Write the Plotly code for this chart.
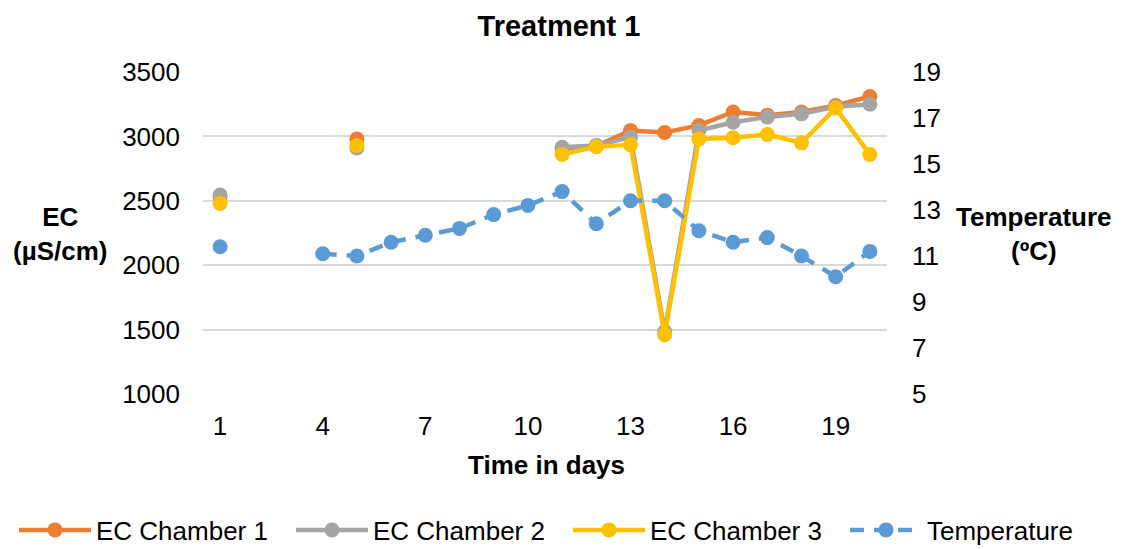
import plotly.graph_objects as go

days = list(range(1, 21))
ec_chamber1 = [2530, None, None, None, 2980, None, None, None, None, None,
               2905, 2925, 3045, 3030, 3085, 3190, 3165, 3190, 3240, 3310]
ec_chamber2 = [2545, None, None, None, 2910, None, None, None, None, None,
               2915, 2930, 2995, 1485, 3045, 3110, 3150, 3175, 3230, 3250]
ec_chamber3 = [2480, None, None, None, 2930, None, None, None, None, None,
               2860, 2920, 2935, 1460, 2980, 2990, 3015, 2950, 3220, 2860]
temperature = [11.4, None, None, 11.1, 11.0, 11.6, 11.9, 12.2, 12.8, 13.2,
               13.8, 12.4, 13.4, 13.4, 12.1, 11.6, 11.8, 11.0, 10.1, 11.2]

ec_ticks = [1000, 1500, 2000, 2500, 3000, 3500]
temp_ticks = [5, 7, 9, 11, 13, 15, 17, 19]
x_ticks = [1, 4, 7, 10, 13, 16, 19]

FONT = "Arial, Liberation Sans, sans-serif"
W, H = 1121, 549

fig = go.Figure()
series = [
    ("EC Chamber 1", ec_chamber1, "#ED7D31"),
    ("EC Chamber 2", ec_chamber2, "#A5A5A5"),
    ("EC Chamber 3", ec_chamber3, "#FFC000"),
]
for name, vals, col in series:
    fig.add_trace(go.Scatter(
        x=days, y=vals, name=name, mode="lines+markers",
        line=dict(color=col, width=4.5),
        marker=dict(color=col, size=15),
        connectgaps=False, yaxis="y",
    ))
fig.add_trace(go.Scatter(
    x=days, y=temperature, name="Temperature", mode="lines+markers",
    line=dict(color="#5B9BD5", width=4.5, dash="14px,10px"),
    marker=dict(color="#5B9BD5", size=15),
    connectgaps=False, yaxis="y2",
))

fig.update_layout(
    width=W, height=H,
    margin=dict(l=0, r=0, t=0, b=0, autoexpand=False),
    paper_bgcolor="white", plot_bgcolor="white",
    font=dict(family=FONT, size=26, color="#000000"),
    title=dict(text="<b>Treatment 1</b>", x=559 / W, xanchor="center",
               y=1 - 26 / H, yanchor="middle", font=dict(size=29, family=FONT)),
    xaxis=dict(domain=[203 / W, 887 / W], range=[0.5, 20.5], tickvals=x_ticks,
               showgrid=False, zeroline=False, showline=False, ticks="",
               automargin=False,
               ticklabelstandoff=14, tickfont=dict(size=26)),
    yaxis=dict(domain=[155 / H, 477 / H], range=[1000, 3500], tickvals=ec_ticks,
               showgrid=True, gridcolor="#D9D9D9", gridwidth=1.5,
               zeroline=False, showline=False, ticks="", automargin=False,
               ticklabelstandoff=22, tickfont=dict(size=26)),
    yaxis2=dict(range=[5, 19], tickvals=temp_ticks, overlaying="y",
                side="right", showgrid=False, zeroline=False, showline=False,
                ticks="", automargin=False,
                ticklabelstandoff=24, tickfont=dict(size=26)),
    legend=dict(orientation="h", x=14 / W, xanchor="left", y=1 - 530 / H,
                yanchor="middle", font=dict(size=26), itemwidth=72,
                entrywidth=190, traceorder="normal"),
    showlegend=True,
    annotations=[
        dict(text="<b>EC<br>(µS/cm)</b>", xref="paper", yref="paper",
             x=60 / W, y=1 - 234 / H, xanchor="center", yanchor="middle",
             showarrow=False, font=dict(size=26)),
        dict(text="<b>Temperature<br>(ºC)</b>", xref="paper", yref="paper",
             x=1034 / W, y=1 - 234 / H, xanchor="center", yanchor="middle",
             showarrow=False, font=dict(size=26)),
        dict(text="<b>Time in days</b>", xref="paper", yref="paper",
             x=546 / W, y=1 - 465 / H, xanchor="center", yanchor="middle",
             showarrow=False, font=dict(size=26)),
    ],
)

fig.write_html("out.html")
